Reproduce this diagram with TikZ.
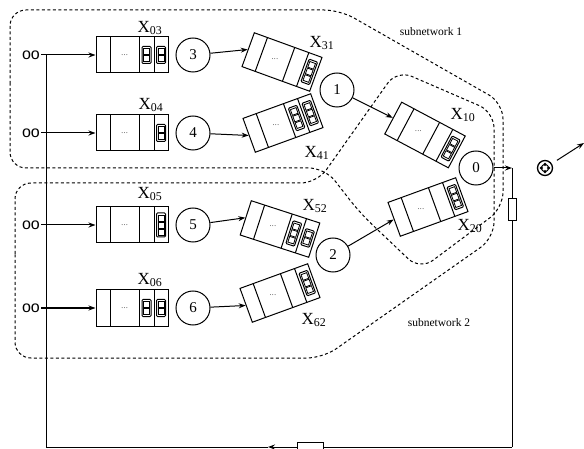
\documentclass[tikz,border=0pt]{standalone}
\usepackage{fontspec}
\setmainfont{Liberation Serif}
\newfontfamily\srcfont{Liberation Sans}
\usetikzlibrary{arrows.meta, positioning}

\tikzset{
  qbox/.style={draw, line width=1pt, minimum width=72, minimum height=36, inner sep=0pt},
  srv/.style={draw, circle, line width=1pt, minimum size=34, inner sep=0pt,
    font=\fontsize{15}{15}\selectfont},
  src/.style={font=\srcfont\fontsize{16}{16}\selectfont, inner sep=1pt},
  qlab/.style={font=\fontsize{17}{17}\selectfont, inner sep=0pt},
  netlab/.style={font=\fontsize{11.5}{12}\selectfont},
  qdots/.style={font=\scriptsize, inner sep=0pt},
  subnet/.style={line width=1pt, dash pattern=on 3pt off 2.5pt, rounded corners=16pt},
  flow/.style={line width=1pt, -{Stealth[length=7pt, width=5pt]}},
  wire/.style={line width=1pt},
  gate/.style={draw, fill=white, line width=0.8pt, inner sep=0pt},
}

% queue: name, centre, angle, items (x/cells)
\newcommand{\queuebox}[4]{%
  \node[qbox, rotate=#3] (#1) at (#2) {};
  \begin{scope}[shift={(#2)}, rotate=#3]
    \draw[line width=1pt] (-22,18) -- (-22,-18) (7,18) -- (7,-18) (22,18) -- (22,-18);
    \node[qdots] at (-7.5,0) {\dots};
    \foreach \xc/\nc in {#4} {
      \pgfmathsetmacro\hc{7*\nc+3}
      \draw[line width=1pt, rounded corners=1pt] (\xc-4.5,-\hc/2) rectangle (\xc+4.5,\hc/2);
      \foreach \k in {1,...,\nc}
        \draw[line width=0.8pt] (\xc-3,\hc/2-2-7*\k+7) rectangle (\xc+3,\hc/2-8-7*\k+7);
    }
  \end{scope}}

\begin{document}
\begin{tikzpicture}[x=1pt, y=1pt]
  \useasboundingbox (0,0) rectangle (584,-449);

  % -- Subnetwork borders --
  \draw[subnet] (10,-100) -- (10,-10) -- (340,-10) -- (503,-103) -- (503,-208)
    -- (420,-270) -- (360,-213) -- (325,-168) -- (10,-168) -- cycle;
  \draw[subnet] (15,-270) -- (15,-183) -- (317,-183) -- (397,-70) -- (494,-112)
    -- (494,-238) -- (323,-358) -- (15,-358) -- cycle;
  \node[netlab] (net1) at (431,-32) {subnetwork 1};
  \node[netlab] (net2) at (439,-323) {subnetwork 2};

  % -- Queues --
  \queuebox{q03}{132,-55}{0}{14.5/2, 29/2}
  \queuebox{q04}{132,-133}{0}{29/2}
  \queuebox{q05}{132,-225}{0}{29/3}
  \queuebox{q06}{132,-308}{0}{14.5/2, 29/2}
  \queuebox{q31}{282,-62}{-20}{29/3}
  \queuebox{q41}{283,-123}{20}{14.5/3, 29/3}
  \queuebox{q52}{280,-229}{-18}{14.5/3, 29/2}
  \queuebox{q62}{280,-293}{20}{29/3}
  \queuebox{q10}{425,-135}{-28}{29/3}
  \queuebox{q20}{428,-207}{20}{29/3}

  \node[qlab] (l03) at (150,-28) {X\textsubscript{03}};
  \node[qlab] (l04) at (151,-105) {X\textsubscript{04}};
  \node[qlab] (l05) at (150,-194) {X\textsubscript{05}};
  \node[qlab] (l06) at (150,-280) {X\textsubscript{06}};
  \node[qlab] (l31) at (322,-43) {X\textsubscript{31}};
  \node[qlab] (l41) at (317,-153) {X\textsubscript{41}};
  \node[qlab] (l52) at (315,-206) {X\textsubscript{52}};
  \node[qlab] (l62) at (314,-320) {X\textsubscript{62}};
  \node[qlab] (l10) at (463,-115) {X\textsubscript{10}};
  \node[qlab] (l20) at (470,-226) {X\textsubscript{20}};

  % -- Servers --
  \node[srv] (s3) at (193,-55) {3};
  \node[srv] (s4) at (193,-133) {4};
  \node[srv] (s5) at (193,-225) {5};
  \node[srv] (s6) at (193,-308) {6};
  \node[srv] (s1) at (337,-90) {1};
  \node[srv] (s2) at (333,-255) {2};
  \node[srv] (s0) at (476,-168) {0};

  % -- Sources --
  \node[src] (o3) at (31,-55) {oo};
  \node[src] (o4) at (31,-133) {oo};
  \node[src] (o5) at (31,-225) {oo};
  \node[src] (o6) at (31,-308) {oo};
  \foreach \n in {3,4,5,6}
    \draw[flow] (o\n) -- (q0\n);

  % -- Routing --
  \draw[flow] (s3) -- (q31.west);
  \draw[flow] (s4) -- (q41.west);
  \draw[flow] (s5) -- (q52.west);
  \draw[flow] (s6) -- (q62.west);
  \draw[flow] (s1) -- (q10.west);
  \draw[flow] (s2) -- (q20.west);

  % -- Feedback loop --
  \coordinate (tap) at (512,-168);
  \coordinate (fbr) at (512,-447);
  \coordinate (fbm) at (268,-447);
  \coordinate (fbl) at (46,-447);
  \coordinate (ftop) at (46,-55);
  \draw[flow] (s0) -- (tap);
  \draw[wire] (tap) -- (fbr);
  \draw[flow] (fbr) -- (fbm);
  \draw[wire] (fbm) -- (fbl) -- (ftop);
  \node[gate, minimum width=8, minimum height=22] (g1) at (512,-209) {};
  \node[gate, minimum width=26, minimum height=7] (g2) at (310,-446) {};

  % -- Sink --
  \node[draw, circle, minimum size=15, inner sep=0pt, line width=1.3pt] (sink) at (545,-168) {};
  \draw[line width=0.9pt] (sink.center) circle (3.6);
  \foreach \a in {0,90,180,270}
    \draw[line width=0.7pt] ([shift={(\a:3.6)}]sink.center) circle (1.3);
  \coordinate (out) at (584,-143);
  \draw[flow, shorten <=6pt] (sink) -- (out);

\end{tikzpicture}
\end{document}
